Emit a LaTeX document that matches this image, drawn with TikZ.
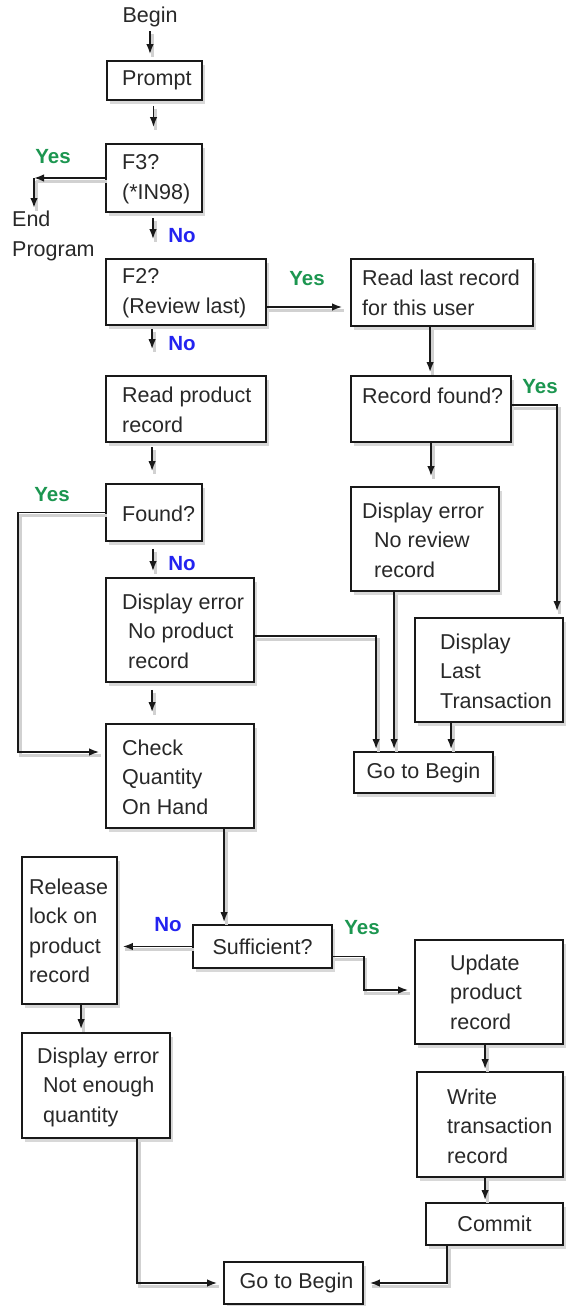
\documentclass[tikz,border=0pt]{standalone}
\usepackage{fontspec}
\setmainfont{Liberation Sans}
\usetikzlibrary{arrows.meta,shadows,calc}
\definecolor{yesgreen}{RGB}{28,150,80}
\definecolor{noblue}{RGB}{35,35,240}
\definecolor{txtgray}{RGB}{40,40,40}
\newcommand\mybox[5]{\node[box, minimum width={#4pt-#2pt}, minimum height={#5pt-#3pt}] (#1) at ({(#2+#4)/2},{(#3+#5)/2}) {};}
\tikzset{
  box/.style={draw=black!90, line width=1.8pt, fill=white, inner sep=0pt,
    drop shadow={shadow xshift=3pt, shadow yshift=-4pt, opacity=0.22, fill=black!70}},
  txt/.style={font=\fontsize{21.5}{29.5}\selectfont, align=left, inner sep=0pt, text=txtgray, anchor=west},
  ctxt/.style={txt, anchor=center},
  arr/.style={-{Latex[length=10pt,width=7.5pt]}, line width=1.6pt, draw=black!90,
    preaction={draw=black!18, line width=3pt, -, transform canvas={xshift=2pt,yshift=-3pt}}},
  yeslab/.style={font=\fontsize{20.5}{24}\selectfont\bfseries, text=yesgreen, inner sep=0pt},
  nolab/.style={font=\fontsize{20.5}{24}\selectfont\bfseries, text=noblue, inner sep=0pt}
}
\begin{document}
\begin{tikzpicture}[x=1pt,y=-1pt]
\useasboundingbox (0,0) rectangle (565,1306);
% connectors' anchors need boxes first
\mybox{prompt}{107}{61}{202}{100}
\mybox{f3}{106}{144}{202}{212}
\mybox{f2}{106}{259}{266}{325}
\mybox{readlast}{351}{259}{533}{326}
\mybox{recfound}{351}{376}{511}{442}
\mybox{noreview}{351}{487}{499}{591}
\mybox{displast}{415}{618}{563}{722}
\mybox{gotoa}{354}{752}{493}{793}
\mybox{readprod}{106}{376}{266}{442}
\mybox{found}{106}{484}{202}{541}
\mybox{noprod}{106}{578}{254}{682}
\mybox{check}{106}{724}{254}{828}
\mybox{suff}{193}{925}{332}{968}
\mybox{release}{22}{857}{117}{1004}
\mybox{notenough}{22}{1033}{170}{1138}
\mybox{update}{415}{940}{563}{1044}
\mybox{write}{417}{1072}{563}{1177}
\mybox{commit}{426}{1203}{563}{1245}
\mybox{gotob}{224}{1262}{363}{1304}
% texts
\node[ctxt] (begin) at (150,17) {Begin};
\node[txt, anchor=north west] (endp) at (12,211) {End\\Program};
\node[txt] (tprompt) at (122,80.5) {Prompt};
\node[txt] (tf3) at (122,179) {F3?\\(*IN98)};
\node[txt] (tf2) at (122,293) {F2?\\(Review last)};
\node[txt] (treadlast) at (362,293) {Read last record\\for this user};
\node[txt] (trecfound) at (362,396) {Record found?};
\node[txt] (tnoreview) at (362,540) {Display error\\\hspace*{12pt}No review\\\hspace*{12pt}record};
\node[txt] (tdisplast) at (440,671) {Display\\Last\\Transaction};
\node[ctxt] (tgotoa) at (gotoa) {Go to Begin};
\node[txt] (treadprod) at (122,410) {Read product\\record};
\node[txt] (tfound) at (122,514) {Found?};
\node[txt] (tnoprod) at (122,631) {Display error\\\hspace*{6pt}No product\\\hspace*{6pt}record};
\node[txt] (tcheck) at (122,777) {Check\\Quantity\\On Hand};
\node[ctxt] (tsuff) at (suff) {Sufficient?};
\node[txt] (trelease) at (29,931) {Release\\lock on\\product\\record};
\node[txt] (tnotenough) at (37,1087) {Display error\\\hspace*{6pt}Not enough\\\hspace*{6pt}quantity};
\node[txt] (tupdate) at (450,992) {Update\\product\\record};
\node[txt] (twrite) at (447,1126) {Write\\transaction\\record};
\node[ctxt] (tcommit) at (commit) {Commit};
\node[ctxt, xshift=3pt] (tgotob) at (gotob) {Go to Begin};
% labels
\node[yeslab] (ly1) at (53,157) {Yes};
\node[nolab] (ln1) at (182,236) {No};
\node[nolab] (ln2) at (182,344) {No};
\node[yeslab] (ly2) at (307,279) {Yes};
\node[yeslab] (ly3) at (540,387) {Yes};
\node[yeslab] (ly4) at (52,495) {Yes};
\node[nolab] (ln3) at (182,564) {No};
\node[nolab] (ln4) at (168,925) {No};
\node[yeslab] (ly5) at (362,928) {Yes};
% connectors
\coordinate (c3) at (34,178);
\draw[arr, shorten <=4pt, shorten >=6pt] (begin.south) -- (begin.south |- prompt.north);
\draw[arr, shorten <=5pt, shorten >=16pt] ([xshift=-1pt]prompt.south) -- ([xshift=-1pt]prompt.south |- f3.north);
\draw[arr, shorten <=5pt, shorten >=19pt] ([xshift=-1pt]f3.south) -- ([xshift=-1pt]f3.south |- f2.north);
\draw[arr, shorten <=3pt, shorten >=26pt] ([xshift=47pt]f2.south west) -- ([xshift=47pt]f2.south west |- readprod.north);
\draw[arr, shorten <=4pt, shorten >=12pt] ([xshift=47pt]readprod.south west) -- ([xshift=47pt]readprod.south west |- found.north);
\draw[arr, shorten <=7pt, shorten >=6pt] ([xshift=-1pt]found.south) -- ([xshift=-1pt]found.south |- noprod.north);
\draw[arr, shorten <=7pt, shorten >=11pt] ([xshift=47pt]noprod.south west) -- ([xshift=47pt]noprod.south west |- check.north);
\draw[arr, shorten >=2pt] ([xshift=119pt]check.south west) -- ([xshift=119pt]check.south west |- suff.north);
\draw[arr] (f3.west) -- (c3);
\draw[arr, shorten >=3pt] (c3) -- (c3 |- endp.north);
\draw[arr, shorten >=8pt] ([yshift=-15pt]f2.east) -- ([yshift=-15pt]f2.east -| readlast.west);
\draw[arr, shorten >=3pt] ([xshift=80pt]readlast.south west) -- ([xshift=80pt]readlast.south west |- recfound.north);
\draw[arr, shorten >=10pt] (recfound.south) -- (recfound.south |- noreview.north);
\draw[arr, shorten >=6pt] ([yshift=4pt]recfound.east) -| ([xshift=143pt]displast.north west);
\draw[arr, shorten >=2pt] ([xshift=44pt]noreview.south west) -- ([xshift=44pt]noreview.south west |- gotoa.north);
\draw[arr, shorten >=2pt] ([yshift=-6pt]noprod.east) -| ([xshift=23pt]gotoa.north west);
\draw[arr, shorten >=2pt] ([xshift=37pt]displast.south west) -- ([xshift=37pt]displast.south west |- gotoa.north);
\draw[arr, shorten >=6pt] (found.west) -- ++(-87,0) |- ([yshift=24pt]check.west);
\draw[arr, shorten >=5pt] (suff.west) -- (suff.west -| release.east);
\draw[arr, shorten >=6pt] ([yshift=-10pt]suff.east) -- ++(31,0) |- ([yshift=2pt]update.west);
\draw[arr, shorten >=3pt] ([xshift=60pt]release.south west) -- ([xshift=60pt]release.south west |- notenough.north);
\draw[arr, shorten >=2pt] ([xshift=71pt]update.south west) -- ([xshift=71pt]update.south west |- write.north);
\draw[arr, shorten >=2pt] ([xshift=69pt]write.south west) -- ([xshift=69pt]write.south west |- commit.north);
\draw[arr, shorten >=6pt] ([xshift=116pt]notenough.south west) |- (gotob.west);
\draw[arr, shorten >=6pt] ([xshift=22pt]commit.south west) |- (gotob.east);
\end{tikzpicture}
\end{document}
